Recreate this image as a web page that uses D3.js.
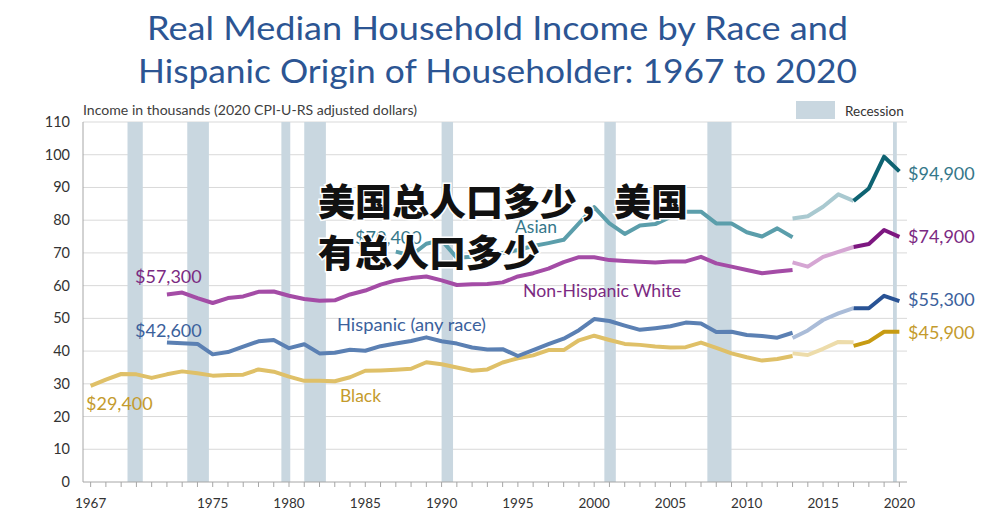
<!DOCTYPE html>
<html><head><meta charset="utf-8">
<script src="https://cdn.jsdelivr.net/npm/d3@7"></script>
<style>
html,body{margin:0;padding:0;background:#fff;}
svg{display:block;font-family:Lato,"Open Sans",sans-serif;}
</style></head>
<body>
<svg id="chart" width="996" height="519"></svg>
<script>
// ---------- DATA ----------
const titleLines = ["Real Median Household Income by Race and", "Hispanic Origin of Householder: 1967 to 2020"];
const yAxisTitle = "Income in thousands (2020 CPI-U-RS adjusted dollars)";
const yTicks = [0,10,20,30,40,50,60,70,80,90,100,110];
const xTickLabels = [1967,1975,1980,1985,1990,1995,2000,2005,2010,2015,2020];

// recessions (decimal year start, end)
const recessionStart = [1969.917, 1973.833, 1980.0, 1981.5, 1990.5, 2001.167, 2007.917, 2020.083];
const recessionEnd   = [1970.917, 1975.25, 1980.583, 1982.917, 1991.25, 2001.917, 2009.5, 2020.333];

// Asian: 1987-2013, 2013-2017, 2017-2020
const asianStart = 1987;
const asianMain = [70.4,69.2,72.8,73.9,68.5,68.8,68.4,70.0,70.9,72.1,73.0,74.0,79.0,84.0,79.0,75.8,78.4,78.8,81.0,82.6,82.6,79.0,79.0,76.3,75.0,77.5,74.8];
const asianMid = [80.5,81.2,84.1,87.9,85.9];
const asianEnd = [85.9,89.7,99.4,94.9];

// Non-Hispanic White: 1972-2013
const whiteStart = 1972;
const whiteMain = [57.3,57.9,56.2,54.7,56.2,56.7,58.1,58.2,56.9,55.9,55.4,55.5,57.3,58.5,60.3,61.6,62.3,62.8,61.6,60.2,60.4,60.5,61.0,62.8,63.8,65.2,67.2,68.7,68.7,67.8,67.5,67.3,67.1,67.4,67.4,68.8,66.8,65.8,64.8,63.8,64.3,64.8];
const whiteMid = [67.1,65.8,68.8,70.3,71.8];
const whiteEnd = [71.8,72.7,77.0,74.9];

// Hispanic (any race): 1972-2013
const hispStart = 1972;
const hispMain = [42.6,42.4,42.2,39.0,39.7,41.4,43.0,43.4,40.9,42.1,39.3,39.5,40.4,40.1,41.5,42.3,43.1,44.2,43.0,42.3,41.1,40.5,40.6,38.5,40.3,42.1,43.8,46.4,49.8,49.2,47.8,46.5,47.0,47.6,48.7,48.4,45.8,45.9,44.9,44.6,44.1,45.6];
const hispMid = [44.0,46.3,49.5,51.5,53.1];
const hispEnd = [53.1,53.1,56.9,55.3];

// Black: 1967-2013
const blackStart = 1967;
const blackMain = [29.4,31.3,33.0,32.9,31.8,32.9,33.8,33.2,32.5,32.7,32.8,34.4,33.7,32.2,30.9,30.9,30.8,32.0,34.0,34.1,34.3,34.6,36.6,36.0,35.0,34.0,34.4,36.5,37.8,38.7,40.3,40.3,43.3,44.7,43.4,42.2,41.9,41.4,41.1,41.2,42.6,41.0,39.3,38.1,37.1,37.6,38.5];
const blackMid = [39.3,38.8,40.7,42.8,42.7];
const blackEnd = [41.6,42.9,45.9,45.9];

const midStart = 2013, endStart = 2017;

const seriesNames = ["Asian","Non-Hispanic White","Hispanic (any race)","Black"];
const startLabels = ["$70,400","$57,300","$42,600","$29,400"];
const endLabels = ["$94,900","$74,900","$55,300","$45,900"];
const overlayLines = ["美国总人口多少，美国","有总人口多少"];

// ---------- STYLES ----------
const colMain  = ["#5b9eab","#a44ca6","#5b80b3","#dfc068"];
const colMid   = ["#a9c9d0","#d5a6d3","#aabcd8","#eddcaa"];
const colEnd   = ["#0e6372","#7d1780","#295395","#c79b12"];
const colLabel = ["#35778a","#7b2a82","#3b619c","#c49b2d"];

const svg = d3.select("#chart");
const x = d3.scaleLinear().domain([1966.5, 2020.5]).range([83, 907]);
const y = d3.scaleLinear().domain([0, 110]).range([482, 122]);

// title
const titleX = [147, 138], titleLen = [701, 719], titleY = [40, 83];
svg.selectAll("text.title").data(titleLines).join("text")
  .attr("class","title")
  .attr("x", (d,i)=>titleX[i]).attr("y", (d,i)=>titleY[i])
  .attr("textLength",(d,i)=>titleLen[i]).attr("lengthAdjust","spacingAndGlyphs")
  .attr("font-size", 33)
  .attr("fill","#2c5593")
  .text(d=>d);

// y axis title
svg.append("text").attr("x",83).attr("y",115)
  .attr("font-size",13.5).attr("textLength",334).attr("lengthAdjust","spacingAndGlyphs")
  .attr("fill","#404040").text(yAxisTitle);

// gridlines
svg.append("g").selectAll("line").data(yTicks.filter(t=>t>0)).join("line")
  .attr("x1",83).attr("x2",907)
  .attr("y1",d=>y(d)).attr("y2",d=>y(d))
  .attr("stroke","#d9d9d9").attr("stroke-width",1);

// recession bands (each year spans [year-0.5, year+0.5])
svg.append("g").selectAll("rect").data(recessionStart.map((s,i)=>[s,recessionEnd[i]])).join("rect")
  .attr("x", d=>x(d[0]-0.5))
  .attr("width", d=> x(d[1]) - x(d[0]))
  .attr("y", y(110)).attr("height", y(0)-y(110))
  .attr("fill","#c9d7e0");

// y axis line
svg.append("line").attr("x1",83).attr("x2",83).attr("y1",y(110)).attr("y2",y(0))
  .attr("stroke","#a6a6a6").attr("stroke-width",1);

// x axis
const xAxisG = svg.append("g").attr("transform",`translate(0,${y(0)})`);
const yearTicks = d3.range(1967, 2021);
xAxisG.append("line").attr("x1",83).attr("x2",907).attr("y1",0).attr("y2",0)
  .attr("stroke","#a6a6a6");
xAxisG.selectAll("line.t").data(yearTicks).join("line").attr("class","t")
  .attr("x1",d=>x(d)).attr("x2",d=>x(d)).attr("y1",0).attr("y2",5)
  .attr("stroke","#a6a6a6");
xAxisG.selectAll("text").data(xTickLabels).join("text")
  .attr("x",d=>x(d)).attr("y",26).attr("text-anchor","middle")
  .attr("font-size",13.5).attr("fill","#333").text(d=>d);

// y tick labels
svg.append("g").selectAll("text").data(yTicks).join("text")
  .attr("x",70).attr("y",d=>y(d)+5).attr("text-anchor","end")
  .attr("font-size",14.5).attr("fill","#333").text(d=>d);

// legend
svg.append("rect").attr("x",796).attr("y",101).attr("width",39).attr("height",18).attr("fill","#c9d7e0");
svg.append("text").attr("x",845).attr("y",116).attr("font-size",13.5).attr("fill","#333").text("Recession");

// lines
const line = d3.line().x(d=>x(d[0])).y(d=>y(d[1]));
const toPts = (start, arr) => arr.map((v,i)=>[start+i, v]);
const mains = [toPts(asianStart,asianMain), toPts(whiteStart,whiteMain), toPts(hispStart,hispMain), toPts(blackStart,blackMain)];
const mids = [asianMid, whiteMid, hispMid, blackMid].map(a=>toPts(midStart,a));
const ends = [asianEnd, whiteEnd, hispEnd, blackEnd].map(a=>toPts(endStart,a));

const lg = svg.append("g").attr("fill","none").attr("stroke-width",4)
  .attr("stroke-linejoin","round").attr("stroke-linecap","butt");
[3,2,1,0].forEach(i=>{
  lg.append("path").attr("d",line(mains[i])).attr("stroke",colMain[i]);
  lg.append("path").attr("d",line(mids[i])).attr("stroke",colMid[i]);
  lg.append("path").attr("d",line(ends[i])).attr("stroke",colEnd[i]);
});

// start value labels
const startPos = [[355,244],[135,283],[135,337],[86,410]];
svg.append("g").selectAll("text").data(startLabels).join("text")
  .attr("x",(d,i)=>startPos[i][0]).attr("y",(d,i)=>startPos[i][1])
  .attr("font-size",18).attr("fill",(d,i)=>colLabel[i]).text(d=>d);

// end value labels
const endY = [180,243,306,339];
svg.append("g").selectAll("text").data(endLabels).join("text")
  .attr("x",908).attr("y",(d,i)=>endY[i])
  .attr("font-size",18).attr("fill",(d,i)=>colLabel[i]).text(d=>d);

// series name labels
const namePos = [[515,233],[523,297],[337,331],[340,402]];
const nameLen = [42,158,149,41];
svg.append("g").selectAll("text").data(seriesNames).join("text")
  .attr("x",(d,i)=>namePos[i][0]).attr("y",(d,i)=>namePos[i][1])
  .attr("font-size",17.5).attr("textLength",(d,i)=>nameLen[i]).attr("lengthAdjust","spacingAndGlyphs")
  .attr("fill",(d,i)=>colLabel[i]).text(d=>d);

// overlay Chinese text
svg.append("g").selectAll("text").data(overlayLines).join("text")
  .attr("x",318).attr("y",(d,i)=> i===0 ? 216 : 267)
  .attr("font-family","'Noto Sans CJK SC'")
  .attr("font-weight",900).attr("font-size",37)
  .attr("fill","#111").attr("stroke","#fff").attr("stroke-width",3)
  .attr("paint-order","stroke").text(d=>d);
</script>
</body></html>
